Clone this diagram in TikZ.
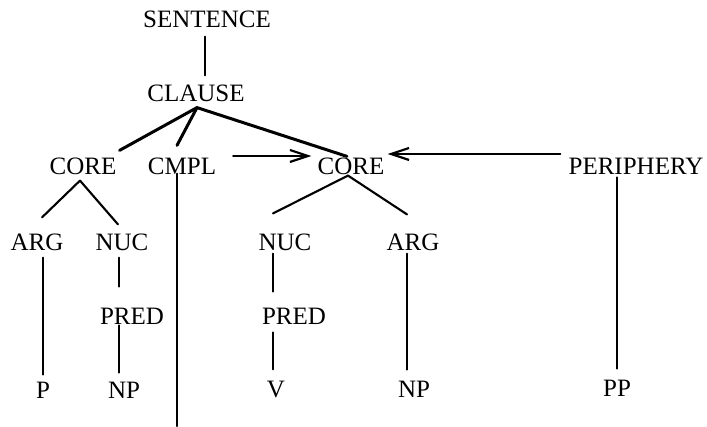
\documentclass[tikz,border=0pt]{standalone}
\usepackage{fontspec}
\setmainfont{Liberation Serif}
\usetikzlibrary{calc,arrows.meta}

\begin{document}
\begin{tikzpicture}[x=1pt,y=-1pt,line cap=round,line join=round,
    >={Straight Barb[length=18pt,width=12pt,line width=2.2pt]},
    lbl/.style={inner sep=0pt,font=\fontsize{25}{30}\selectfont},
    branch/.style={line width=2.1pt},
    fan/.style={line width=3pt}]
  \useasboundingbox (0,0) rectangle (707,427);

  %--- Labels -------------------------------------------------------------
  \node[lbl] (sentence) at (207,19)  {SENTENCE};
  \node[lbl] (clause)   at (196,93)  {CLAUSE};
  \node[lbl] (coreL)    at (83,166)  {CORE};
  \node[lbl] (cmpl)     at (182,166) {CMPL};
  \node[lbl] (coreR)    at (351,166) {CORE};
  \node[lbl] (periph)   at (636,166) {PERIPHERY};
  \node[lbl] (argL)     at (37,242)  {ARG};
  \node[lbl] (nucL)     at (122,242) {NUC};
  \node[lbl] (nucR)     at (285,242) {NUC};
  \node[lbl] (argR)     at (413,242) {ARG};
  \node[lbl] (predL)    at (132,316) {PRED};
  \node[lbl] (predR)    at (294,316) {PRED};
  \node[lbl] (p)        at (43,390)  {P};
  \node[lbl] (npL)      at (124,390) {NP};
  \node[lbl] (v)        at (276,390) {V};
  \node[lbl] (npR)      at (414,389) {NP};
  \node[lbl] (pp)       at (617,388) {PP};

  %--- Top of the tree ----------------------------------------------------
  \draw[branch] ($(sentence.south)+(-2,9)$) -- ($(clause.north)+(9,-9)$);

  \coordinate (fan) at ($(clause.south)+(1,6)$);
  \draw[fan] (fan) -- ($(coreL.north east)+(3,-7)$);
  \draw[fan] (fan) -- ($(cmpl.north)+(-5,-12)$);
  \draw[fan] (fan) -- ($(coreR.north)+(-4,-1)$);

  % linking arrows into the second core
  \draw[branch,->] ($(cmpl.east)+(17,-10)$) -- ($(coreR.west)+(-6,-10)$);
  \draw[branch,->] ($(periph.west)+(-8,-12)$) -- ($(coreR.east)+(3,-12)$);

  % long stems
  \coordinate (cmplend) at (177,426);
  \draw[branch] ($(cmpl.south)+(-5,-1)$) -- (cmplend);
  \draw[branch] ($(periph.south -| pp.north)+(0,3)$) -- ($(pp.north)+(0,-11)$);

  %--- First core ---------------------------------------------------------
  \coordinate (coreLb) at ($(coreL.south)+(-3,6)$);
  \draw[branch] (coreLb) -- ($(argL.north)+(5,-16)$);
  \draw[branch] (coreLb) -- ($(nucL.north)+(-4,-9)$);
  \draw[branch] ($(argL.south)+(6,7)$) -- ($(p.north)+(0,-7)$);
  \draw[branch] ($(nucL.south)+(-3,7)$) -- ($(predL.north)+(-13,-21)$);
  \draw[branch] ($(predL.south)+(-13,1)$) -- ($(npL.north)+(-5,-9)$);

  %--- Second core --------------------------------------------------------
  \coordinate (coreRb) at ($(coreR.south)+(-3,1)$);
  \draw[branch] (coreRb) -- ($(nucR.north)+(-12,-20)$);
  \draw[branch] (coreRb) -- ($(argR.north)+(-6,-19)$);
  \draw[branch] ($(nucR.south)+(-12,3)$) -- ($(predR.north)+(-21,-16)$);
  \draw[branch] ($(predR.south)+(-21,8)$) -- ($(v.north)+(-3,-12)$);
  \draw[branch] ($(argR.south)+(-6,3)$) -- ($(npR.north)+(-7,-11)$);
\end{tikzpicture}
\end{document}
